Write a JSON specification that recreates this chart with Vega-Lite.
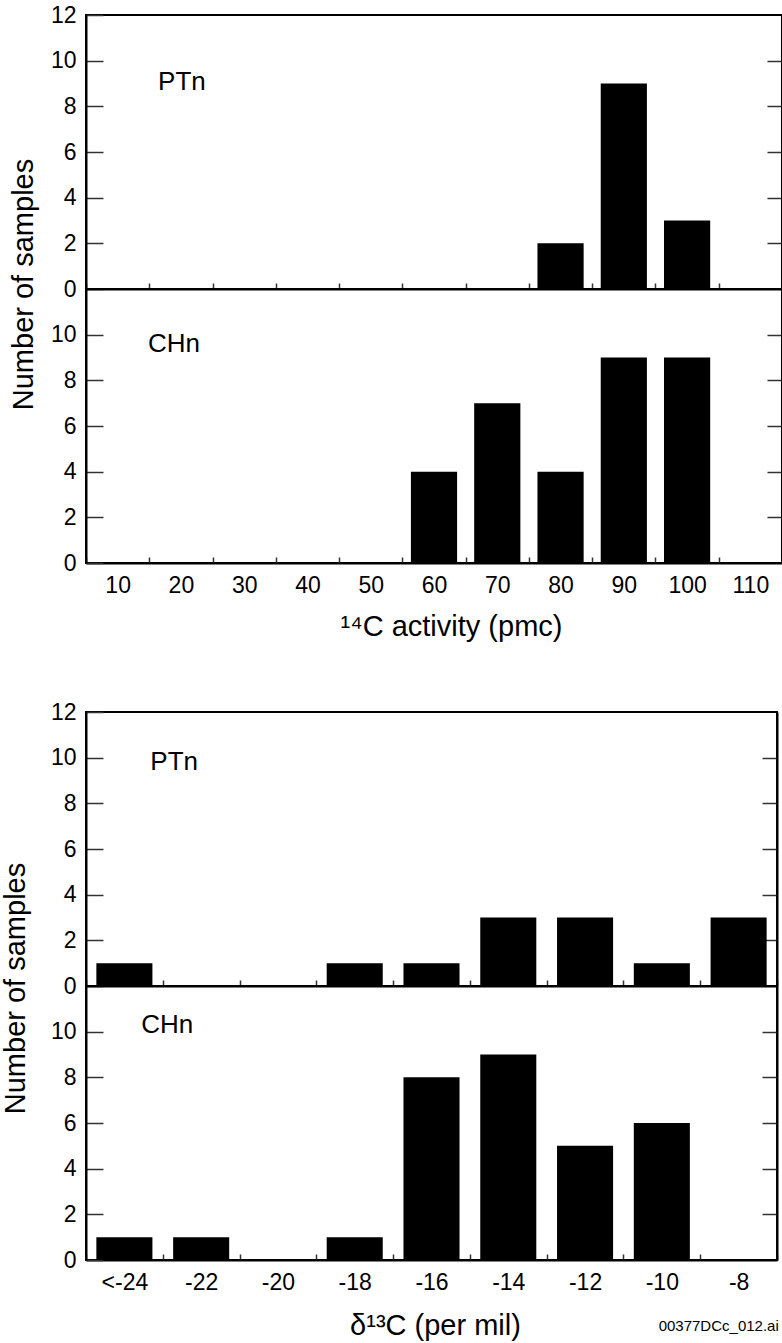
{
  "$schema": "https://vega.github.io/schema/vega-lite/v6.json",
  "background": "white",
  "padding": {"left": 0, "top": 3, "right": 0, "bottom": 0},
  "config": {
    "font": "Liberation Sans",
    "view": {"stroke": "black", "strokeWidth": 2},
    "axis": {
      "domainColor": "black", "domainWidth": 2,
      "tickColor": "#333333", "tickWidth": 1.5,
      "labelColor": "black", "labelFontSize": 23, "labelFont": "Liberation Sans",
      "titleColor": "black", "titleFontSize": 29, "titleFontWeight": "normal", "titleFont": "Liberation Sans",
      "grid": false
    },
    "text": {"font": "Liberation Sans", "color": "black"}
  },
  "datasets": {
    "c14": [
      {"panel": "PTn", "bin": "80", "n": 2},
      {"panel": "PTn", "bin": "90", "n": 9},
      {"panel": "PTn", "bin": "100", "n": 3},
      {"panel": "CHn", "bin": "60", "n": 4},
      {"panel": "CHn", "bin": "70", "n": 7},
      {"panel": "CHn", "bin": "80", "n": 4},
      {"panel": "CHn", "bin": "90", "n": 9},
      {"panel": "CHn", "bin": "100", "n": 9}
    ],
    "d13": [
      {"panel": "PTn", "bin": "<-24", "n": 1},
      {"panel": "PTn", "bin": "-18", "n": 1},
      {"panel": "PTn", "bin": "-16", "n": 1},
      {"panel": "PTn", "bin": "-14", "n": 3},
      {"panel": "PTn", "bin": "-12", "n": 3},
      {"panel": "PTn", "bin": "-10", "n": 1},
      {"panel": "PTn", "bin": "-8", "n": 3},
      {"panel": "CHn", "bin": "<-24", "n": 1},
      {"panel": "CHn", "bin": "-22", "n": 1},
      {"panel": "CHn", "bin": "-18", "n": 1},
      {"panel": "CHn", "bin": "-16", "n": 8},
      {"panel": "CHn", "bin": "-14", "n": 9},
      {"panel": "CHn", "bin": "-12", "n": 5},
      {"panel": "CHn", "bin": "-10", "n": 6}
    ]
  },
  "title": {"text": "00377DCc_012.ai", "orient": "bottom", "anchor": "end", "fontSize": 15, "fontWeight": "normal", "font": "Liberation Sans", "color": "black", "offset": -22, "dx": -5},
  "columns": 1,
  "align": "none",
  "spacing": 58,
  "concat": [
    {
      "spacing": 0,
      "bounds": "flush",
      "vconcat": [
        {
          "width": 696, "height": 274,
          "layer": [
            {
              "data": {"name": "c14"},
              "transform": [{"filter": "datum.panel === 'PTn'"}],
              "mark": {"type": "bar", "color": "black", "width": {"band": 0.73}},
              "encoding": {
                "x": {"field": "bin", "type": "ordinal",
                      "scale": {"domain": ["10","20","30","40","50","60","70","80","90","100","110"], "paddingInner": 0, "paddingOuter": 0},
                      "axis": {"orient": "bottom", "tickBand": "extent", "tickSize": -6, "labels": false, "title": null}},
                "y": {"field": "n", "type": "quantitative", "scale": {"domain": [0, 12], "nice": false},
                      "axis": {"orient": "left", "values": [0,2,4,6,8,10,12], "tickSize": -17, "labelPadding": 27, "title": "Number of samples", "titleY": 269, "titlePadding": 12}}
              }
            },
            {
              "data": {"values": [{"label": "PTn"}]},
              "mark": {"type": "text", "fontSize": 26, "align": "center", "baseline": "middle", "dx": 1},
              "encoding": {
                "text": {"field": "label"},
                "x": {"datum": "20", "type": "ordinal",
                      "scale": {"domain": ["10","20","30","40","50","60","70","80","90","100","110"], "paddingInner": 0, "paddingOuter": 0}, "axis": null},
                "y": {"datum": 9.05, "type": "quantitative", "scale": {"domain": [0, 12], "nice": false},
                      "axis": {"orient": "right", "values": [2,4,6,8,10], "tickSize": -15, "labels": false, "title": null}}
              }
            }
          ],
          "resolve": {"axis": {"x": "independent", "y": "independent"}}
        },
        {
          "width": 696, "height": 274,
          "layer": [
            {
              "data": {"name": "c14"},
              "transform": [{"filter": "datum.panel === 'CHn'"}],
              "mark": {"type": "bar", "color": "black", "width": {"band": 0.73}},
              "encoding": {
                "x": {"field": "bin", "type": "ordinal",
                      "scale": {"domain": ["10","20","30","40","50","60","70","80","90","100","110"], "paddingInner": 0, "paddingOuter": 0},
                      "axis": {"orient": "bottom", "tickBand": "extent", "tickSize": -6, "labelPadding": 17, "labelAngle": 0, "title": "¹⁴C activity (pmc)", "titlePadding": 15, "titleX": 365}},
                "y": {"field": "n", "type": "quantitative", "scale": {"domain": [0, 12], "nice": false},
                      "axis": {"orient": "left", "values": [0,2,4,6,8,10], "tickSize": -17, "labelPadding": 27, "title": null}}
              }
            },
            {
              "data": {"values": [{"label": "CHn"}]},
              "mark": {"type": "text", "fontSize": 26, "align": "center", "baseline": "middle", "dx": -7},
              "encoding": {
                "text": {"field": "label"},
                "x": {"datum": "20", "type": "ordinal",
                      "scale": {"domain": ["10","20","30","40","50","60","70","80","90","100","110"], "paddingInner": 0, "paddingOuter": 0}, "axis": null},
                "y": {"datum": 9.6, "type": "quantitative", "scale": {"domain": [0, 12], "nice": false},
                      "axis": {"orient": "right", "values": [2,4,6,8,10], "tickSize": -15, "labels": false, "title": null}}
              }
            }
          ],
          "resolve": {"axis": {"x": "independent", "y": "independent"}}
        }
      ]
    },
    {
      "spacing": 0,
      "bounds": "flush",
      "vconcat": [
        {
          "width": 691, "height": 274,
          "layer": [
            {
              "data": {"name": "d13"},
              "transform": [{"filter": "datum.panel === 'PTn'"}],
              "mark": {"type": "bar", "color": "black", "width": {"band": 0.73}},
              "encoding": {
                "x": {"field": "bin", "type": "ordinal",
                      "scale": {"domain": ["<-24","-22","-20","-18","-16","-14","-12","-10","-8"], "paddingInner": 0, "paddingOuter": 0},
                      "axis": {"orient": "bottom", "tickBand": "extent", "tickSize": -6, "labels": false, "title": null}},
                "y": {"field": "n", "type": "quantitative", "scale": {"domain": [0, 12], "nice": false},
                      "axis": {"orient": "left", "values": [0,2,4,6,8,10,12], "tickSize": -17, "labelPadding": 27, "title": "Number of samples", "titleY": 276, "titlePadding": 20}}
              }
            },
            {
              "data": {"values": [{"label": "PTn"}]},
              "mark": {"type": "text", "fontSize": 26, "align": "center", "baseline": "middle", "dx": -27},
              "encoding": {
                "text": {"field": "label"},
                "x": {"datum": "-22", "type": "ordinal",
                      "scale": {"domain": ["<-24","-22","-20","-18","-16","-14","-12","-10","-8"], "paddingInner": 0, "paddingOuter": 0}, "axis": null},
                "y": {"datum": 9.8, "type": "quantitative", "scale": {"domain": [0, 12], "nice": false},
                      "axis": {"orient": "right", "values": [2,4,6,8,10], "tickSize": -15, "labels": false, "title": null}}
              }
            }
          ],
          "resolve": {"axis": {"x": "independent", "y": "independent"}}
        },
        {
          "width": 691, "height": 274,
          "layer": [
            {
              "data": {"name": "d13"},
              "transform": [{"filter": "datum.panel === 'CHn'"}],
              "mark": {"type": "bar", "color": "black", "width": {"band": 0.73}},
              "encoding": {
                "x": {"field": "bin", "type": "ordinal",
                      "scale": {"domain": ["<-24","-22","-20","-18","-16","-14","-12","-10","-8"], "paddingInner": 0, "paddingOuter": 0},
                      "axis": {"orient": "bottom", "tickBand": "extent", "tickSize": -6, "labelPadding": 17, "labelAngle": 0, "title": "δ¹³C (per mil)", "titlePadding": 17, "titleX": 349}},
                "y": {"field": "n", "type": "quantitative", "scale": {"domain": [0, 12], "nice": false},
                      "axis": {"orient": "left", "values": [0,2,4,6,8,10], "tickSize": -17, "labelPadding": 27, "title": null}}
              }
            },
            {
              "data": {"values": [{"label": "CHn"}]},
              "mark": {"type": "text", "fontSize": 26, "align": "center", "baseline": "middle", "dx": -34},
              "encoding": {
                "text": {"field": "label"},
                "x": {"datum": "-22", "type": "ordinal",
                      "scale": {"domain": ["<-24","-22","-20","-18","-16","-14","-12","-10","-8"], "paddingInner": 0, "paddingOuter": 0}, "axis": null},
                "y": {"datum": 10.3, "type": "quantitative", "scale": {"domain": [0, 12], "nice": false},
                      "axis": {"orient": "right", "values": [2,4,6,8,10], "tickSize": -15, "labels": false, "title": null}}
              }
            }
          ],
          "resolve": {"axis": {"x": "independent", "y": "independent"}}
        }
      ]
    }
  ]
}
